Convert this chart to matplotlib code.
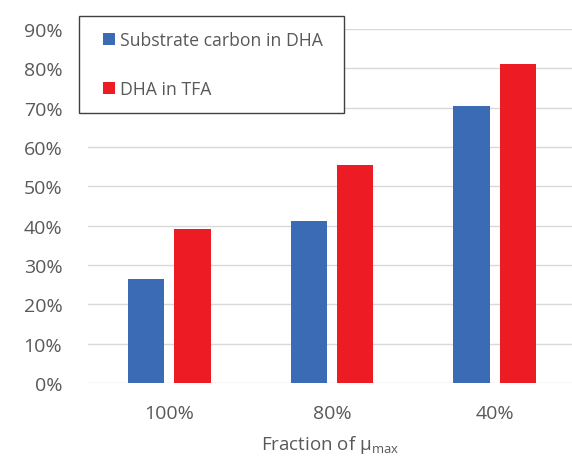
import matplotlib
matplotlib.use('Agg')
import matplotlib.pyplot as plt
import numpy as np
from matplotlib.ticker import FuncFormatter
from matplotlib.patches import Rectangle

# Dados
categorias = ['100%', '80%', '40%']
carbono_dha = [0.264, 0.411, 0.703]
dha_tfa = [0.391, 0.555, 0.810]
y_ticks = np.arange(0, 0.91, 0.1)

plt.rcParams['font.family'] = ['Open Sans', 'DejaVu Sans']
plt.rcParams['mathtext.fontset'] = 'custom'
plt.rcParams['mathtext.rm'] = 'Open Sans'

cor_azul = '#3B6BB5'
cor_verm = '#ED1C24'
cor_texto = '#595959'

W, H = 572, 464
fig = plt.figure(figsize=(W / 100, H / 100), dpi=100)
ax = fig.add_axes([88 / W, 80 / H, 1 - 88 / W, 354 / H])

x = np.arange(len(categorias))
larg = 0.224
ax.bar(x - 0.142, carbono_dha, larg, color=cor_azul, label='Substrate carbon in DHA', zorder=3)
ax.bar(x + 0.142, dha_tfa, larg, color=cor_verm, label='DHA in TFA', zorder=3)

ax.set_xlim(-0.5, 2.475)
ax.set_ylim(0, 0.9)
ax.set_yticks(y_ticks)
ax.yaxis.set_major_formatter(FuncFormatter(lambda v, p: f'{v * 100:.0f}%'))
ax.set_xticks(x)
ax.set_xticklabels(categorias)
ax.tick_params(axis='both', length=0, labelsize=14, colors=cor_texto)
ax.tick_params(axis='x', pad=15)
ax.tick_params(axis='y', pad=18.5)
ax.grid(axis='y', color='#D9D9D9', lw=1, zorder=0)
for s in ax.spines.values():
    s.set_visible(False)

ax.set_xlabel(r'Fraction of μ$_{\mathrm{max}}$', fontsize=13.5, color=cor_texto, labelpad=8)

# caixa da legenda (moldura desenhada à parte)
fig.patches.append(Rectangle((79 / W, 1 - 114 / H), 265 / W, 97 / H,
                             transform=fig.transFigure, facecolor='white',
                             edgecolor='#404040', lw=1.0, zorder=5))
leg = fig.legend(loc='upper left', bbox_to_anchor=(103 / W, 1 - 32 / H),
                 fontsize=12.7, frameon=False, handlelength=0.68, handleheight=0.68,
                 handletextpad=0.3, labelspacing=1.78, borderpad=0,
                 borderaxespad=0, labelcolor=cor_texto)
leg.set_zorder(6)

fig.savefig('out.png', dpi=100)
